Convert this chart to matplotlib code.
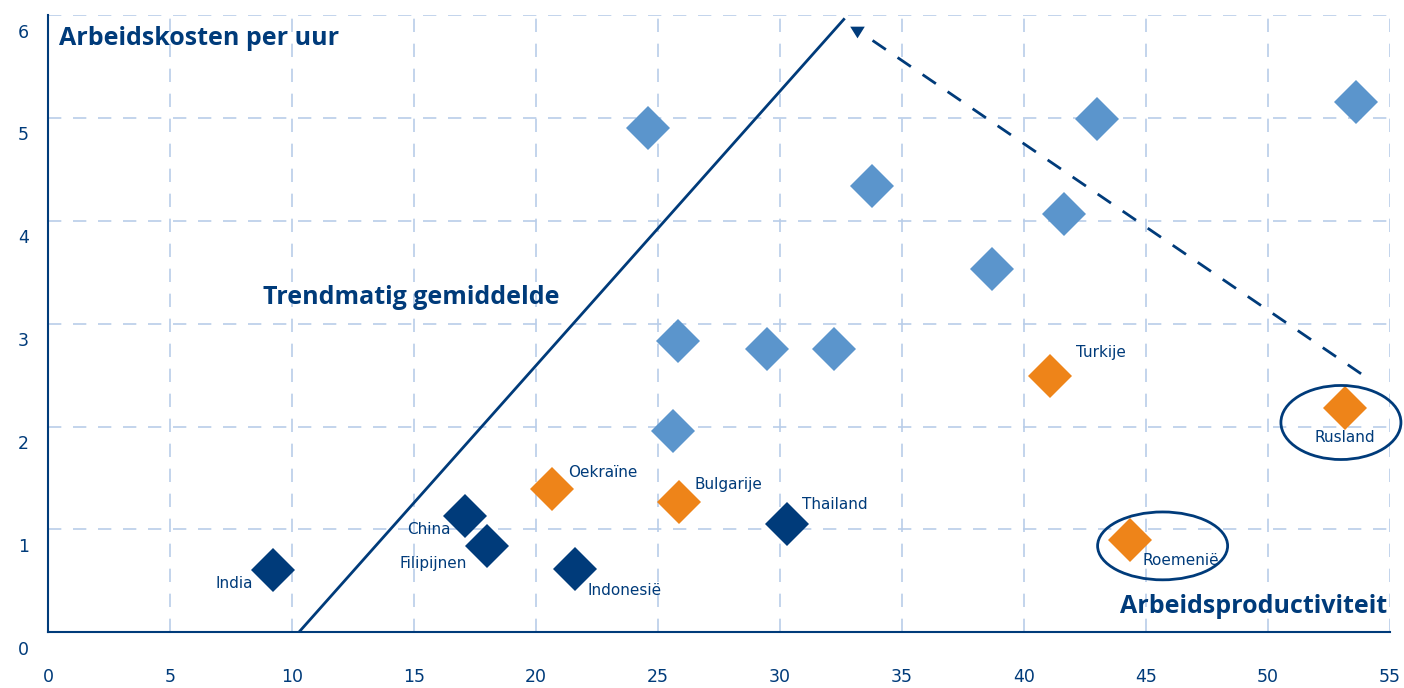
import matplotlib.pyplot as plt
import matplotlib.transforms as mtransforms
from matplotlib.patches import Ellipse

# colours
navy = "#003b7a"
light = "#5b95cc"
orange = "#ee8419"
gridc = "#b9cde9"

# data
light_x = [24.6, 25.8, 25.6, 29.45, 32.2, 33.75, 38.7, 41.65, 43.0, 53.6]
light_y = [4.90, 2.83, 1.96, 2.75, 2.75, 4.34, 3.53, 4.07, 4.99, 5.16]

orange_names = ["Oekraïne", "Bulgarije", "Turkije", "Rusland", "Roemenië"]
orange_x = [20.65, 25.85, 41.05, 53.15, 44.35]
orange_y = [1.39, 1.27, 2.49, 2.18, 0.90]

navy_names = ["India", "China", "Filipijnen", "Indonesië", "Thailand"]
navy_x = [9.2, 17.1, 18.0, 21.6, 30.3]
navy_y = [0.61, 1.13, 0.84, 0.62, 1.05]

trend_x = [10.27, 32.61]
trend_y = [0.0, 5.96]

arrow_x = [33.79, 53.84]
arrow_y = [5.755, 2.51]
arrow_tip = (33.15, 5.84)

x_ticks = [0, 5, 10, 15, 20, 25, 30, 35, 40, 45, 50, 55]
y_ticks = [0, 1, 2, 3, 4, 5, 6]

fig = plt.figure(figsize=(14.04, 6.88), dpi=100)
ax = fig.add_axes([0.0344, 0.081, 0.9556, 0.8968])
ax.set_xlim(0, 55)
ax.set_ylim(0, 6)

for s in ["top", "right"]:
    ax.spines[s].set_visible(False)
for s in ["left", "bottom"]:
    ax.spines[s].set_color(navy)
    ax.spines[s].set_linewidth(1.5)

ax.set_xticks(x_ticks)
ax.set_yticks(y_ticks)
ax.tick_params(length=0, labelcolor=navy, labelsize=12.5)
ax.tick_params(axis="x", pad=26)
ax.tick_params(axis="y", pad=14)
ax.grid(True, color=gridc, linewidth=1.2, linestyle=(0, (8, 7)))
ax.set_axisbelow(True)
offset = mtransforms.ScaledTranslation(0, -11 / 72, fig.dpi_scale_trans)
for lab in ax.get_yticklabels():
    lab.set_transform(lab.get_transform() + offset)

ax.plot(light_x, light_y, linestyle="none", marker="D",
        markersize=22.5, color=light, markeredgewidth=0, zorder=3)
ax.plot(orange_x, orange_y, linestyle="none", marker="D",
        markersize=22.5, color=orange, markeredgewidth=0, zorder=3)
ax.plot(navy_x, navy_y, linestyle="none", marker="D",
        markersize=22.5, color=navy, markeredgewidth=0, zorder=3)

# trend line and dashed arrow
ax.plot(trend_x, trend_y, color=navy, linewidth=2, zorder=2)
ax.plot(arrow_x, arrow_y, color=navy, linewidth=2, zorder=2,
        linestyle=(0, (5.8, 5.1)))
head = [(-1, 0.8), (1, 0.8), (0, -0.8), (-1, 0.8)]
ax.plot(*arrow_tip, marker=head, markersize=10.5, color=navy,
        markeredgewidth=0, zorder=2)

# ellipses
ax.add_patch(Ellipse((52.99, 2.04), 4.92, 0.72, fill=False, clip_on=False,
                     edgecolor=navy, linewidth=2, zorder=4))
ax.add_patch(Ellipse((45.68, 0.84), 5.33, 0.66, fill=False, clip_on=False,
                     edgecolor=navy, linewidth=2, zorder=4))

lab_font = dict(color=navy, fontsize=11, family="Liberation Sans Narrow")
label_pos = {
    "India": (8.4, 0.47, "right"),
    "China": (16.5, 1.0, "right"),
    "Filipijnen": (17.15, 0.67, "right"),
    "Indonesië": (22.1, 0.41, "left"),
    "Oekraïne": (21.3, 1.55, "left"),
    "Bulgarije": (26.5, 1.44, "left"),
    "Thailand": (30.9, 1.24, "left"),
    "Turkije": (42.15, 2.72, "left"),
    "Rusland": (51.9, 1.89, "left"),
    "Roemenië": (44.85, 0.70, "left"),
}
for name in orange_names + navy_names:
    x, y, ha = label_pos[name]
    ax.text(x, y, name, ha=ha, va="center", zorder=5, **lab_font)

big_font = dict(color=navy, fontsize=18, fontweight="bold", family="Open Sans")
ax.text(0.42, 5.77, "Arbeidskosten per uur", ha="left", va="center", **big_font)
ax.text(8.8, 3.26, "Trendmatig gemiddelde", ha="left", va="center", **big_font)
ax.text(54.9, 0.25, "Arbeidsproductiviteit", ha="right", va="center", **big_font)

fig.savefig("out.png", dpi=100)
